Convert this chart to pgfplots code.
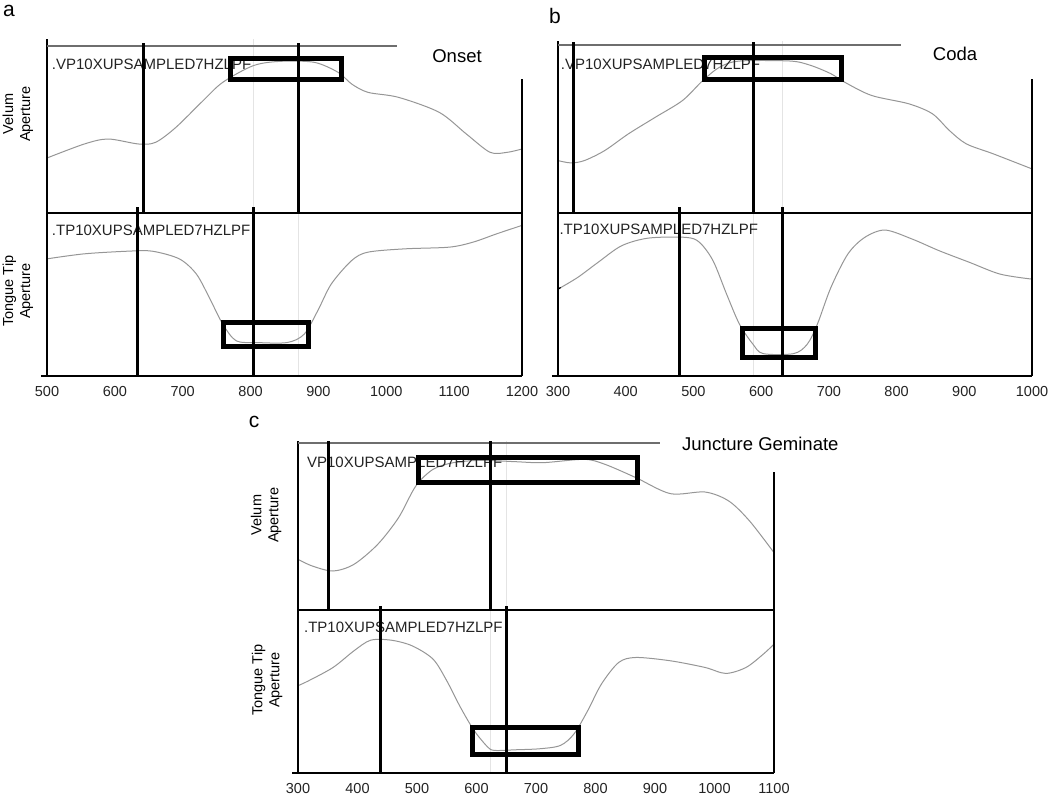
\documentclass[border=0pt]{standalone}
\usepackage{fontspec}
\setmainfont{Liberation Sans}
\usepackage{pgfplots}
\pgfplotsset{compat=1.18}
\definecolor{curve}{RGB}{150,150,150}
\definecolor{topline}{RGB}{110,110,110}
\definecolor{faint}{RGB}{228,228,228}
\definecolor{txt}{RGB}{35,35,35}
\tikzset{spine/.style={black, line width=1.2pt}}
\pgfplotsset{
  base/.style={scale only axis, clip=false, axis line style={draw=none},
    major tick length=0pt, minor tick num=0, ytick=\empty, ymin=0,
    /pgf/number format/assume math mode=true,
    /pgf/number format/1000 sep={},
    xticklabel style={font=\fontsize{14.5}{16}\selectfont, text=txt, yshift=-7pt}},
  curveplot/.style={curve, line width=1pt, no markers, smooth},
  markline/.style={black, line width=3pt, no markers},
  faintline/.style={faint, line width=1pt, no markers},
  rectbox/.style={black, line width=5pt, no markers, line join=miter},
}
\newcommand{\trace}[1]{\fontsize{15}{17}\selectfont\color{txt}#1}
\begin{document}
\begin{tikzpicture}
\path[use as bounding box] (0,0) rectangle (1050pt,-803pt);

% ---------------- panel a ----------------
\begin{axis}[base, at={(47pt,-213pt)}, anchor=south west, width=475pt, height=174pt,
  xmin=500, xmax=1200, ymax=522, xtick=\empty]
  \addplot[faintline] coordinates {(805,0) (805,522)};
  \addplot[curveplot] coordinates {(500,165) (555,207) (590,222) (635,207) (660,212) (690,257) (730,337) (759,392) (804,442) (844,455) (894,452) (929,422) (949,387) (973,362) (1018,347) (1078,302) (1118,237) (1153,182) (1178,182) (1200,192)};
  \draw[spine] (axis cs:500,0) -- (axis cs:500,522);
  \draw[spine] (axis cs:1200,0) -- (axis cs:1200,402);
  \draw[topline, line width=2pt] (axis cs:500,502) -- (axis cs:1016,502);
  \node[anchor=west, inner sep=0pt] at (axis cs:507,447) {\trace{.VP10XUPSAMPLED7HZLPF}};
  \addplot[markline] coordinates {(642,0) (642,510)};
  \addplot[markline] coordinates {(871,0) (871,510)};
  \addplot[rectbox] coordinates {(771,465) (934,465) (934,402) (771,402)} -- cycle;
\end{axis}
\begin{axis}[base, at={(47pt,-376pt)}, anchor=south west, width=475pt, height=163pt,
  xmin=500, xmax=1200, ymax=487, xtick={500,600,...,1200}]
  \addplot[faintline] coordinates {(871,0) (871,487)};
  \addplot[curveplot] coordinates {(500,350) (555,365) (620,373) (655,373) (695,350) (720,305) (739,235) (759,155) (779,105) (809,100) (854,100) (879,125) (899,195) (919,275) (949,345) (973,370) (1028,380) (1093,385) (1128,400) (1163,425) (1200,450)};
  \draw[spine] (axis cs:500,0) -- (axis cs:500,487);
  \draw[spine] (axis cs:1200,0) -- (axis cs:1200,487);
  \draw[spine] (axis cs:500,487) -- (axis cs:1200,487);
  \draw[spine] (axis cs:491,0) -- (axis cs:1200,0);
  \node[anchor=west, inner sep=0pt] at (axis cs:507,436) {\trace{.TP10XUPSAMPLED7HZLPF}};
  \addplot[markline] coordinates {(634,0) (634,505)};
  \addplot[markline] coordinates {(805,0) (805,505)};
  \addplot[rectbox] coordinates {(760,160) (886,160) (886,89) (760,89)} -- cycle;
\end{axis}

% ---------------- panel b ----------------
\begin{axis}[base, at={(558pt,-213pt)}, anchor=south west, width=474pt, height=172pt,
  xmin=300, xmax=1000, ymax=515, xtick=\empty]
  \addplot[faintline] coordinates {(631,0) (631,515)};
  \addplot[curveplot] coordinates {(300,157) (319,150) (339,157) (369,187) (404,237) (444,287) (484,337) (514,397) (539,437) (568,455) (643,455) (673,442) (703,417) (723,392) (763,352) (818,327) (853,297) (878,247) (903,207) (943,177) (1000,132)};
  \draw[spine] (axis cs:300,0) -- (axis cs:300,515);
  \draw[spine] (axis cs:1000,0) -- (axis cs:1000,400);
  \draw[topline, line width=2pt] (axis cs:300,504) -- (axis cs:806,504);
  \node[anchor=west, inner sep=0pt] at (axis cs:304,446) {\trace{.VP10XUPSAMPLED7HZLPF}};
  \addplot[markline] coordinates {(323,0) (323,512)};
  \addplot[markline] coordinates {(588,0) (588,512)};
  \addplot[rectbox] coordinates {(517,465) (718,465) (718,401) (517,401)} -- cycle;
\end{axis}
\begin{axis}[base, at={(558pt,-376pt)}, anchor=south west, width=474pt, height=163pt,
  xmin=300, xmax=1000, ymax=488, xtick={300,400,...,1000}]
  \addplot[faintline] coordinates {(588,0) (588,488)};
  \addplot[curveplot] coordinates {(300,260) (329,295) (359,340) (394,390) (434,413) (489,415) (509,400) (529,345) (549,245) (568,155) (588,95) (603,67) (648,67) (668,95) (683,155) (703,265) (728,365) (753,415) (783,437) (823,410) (863,375) (908,340) (953,305) (1000,290)};
  \draw[spine] (axis cs:300,0) -- (axis cs:300,488);
  \draw[spine] (axis cs:1000,0) -- (axis cs:1000,488);
  \draw[spine] (axis cs:300,488) -- (axis cs:1000,488);
  \draw[spine] (axis cs:291,0) -- (axis cs:1000,0);
  \draw[spine] (axis cs:300,260) -- (axis cs:304,265);
  \node[anchor=west, inner sep=0pt] at (axis cs:302,440) {\trace{.TP10XUPSAMPLED7HZLPF}};
  \addplot[markline] coordinates {(480,0) (480,507)};
  \addplot[markline] coordinates {(631,0) (631,507)};
  \addplot[rectbox] coordinates {(572,143) (681,143) (681,54) (572,54)} -- cycle;
\end{axis}

% ---------------- panel c ----------------
\begin{axis}[base, at={(298pt,-610pt)}, anchor=south west, width=476pt, height=169pt,
  xmin=300, xmax=1100, ymax=507, xtick=\empty]
  \addplot[faintline] coordinates {(651,0) (651,507)};
  \addplot[curveplot] coordinates {(300,152) (324,132) (359,117) (394,137) (434,197) (469,277) (498,372) (527,422) (561,442) (608,449) (665,445) (712,442) (781,452) (816,437) (868,397) (926,349) (984,354) (1024,327) (1059,267) (1100,172)};
  \draw[spine] (axis cs:300,0) -- (axis cs:300,507);
  \draw[spine] (axis cs:1100,0) -- (axis cs:1100,415);
  \draw[topline, line width=2pt] (axis cs:300,500) -- (axis cs:909,500);
  \node[anchor=west, inner sep=0pt] at (axis cs:315,444) {\trace{VP10XUPSAMPLED7HZLPF}};
  \addplot[markline] coordinates {(352,0) (352,507)};
  \addplot[markline] coordinates {(623,0) (623,507)};
  \addplot[rectbox] coordinates {(503,458) (871,458) (871,382) (503,382)} -- cycle;
\end{axis}
\begin{axis}[base, at={(298pt,-773pt)}, anchor=south west, width=476pt, height=163pt,
  xmin=300, xmax=1100, ymax=491, xtick={300,400,...,1100}]
  \addplot[faintline] coordinates {(623,0) (623,491)};
  \addplot[curveplot] coordinates {(300,263) (318,278) (359,318) (394,368) (422,400) (457,400) (492,383) (527,343) (550,278) (573,198) (596,128) (619,78) (631,68) (666,70) (706,73) (741,83) (764,118) (787,188) (810,268) (839,333) (868,348) (926,338) (984,318) (1019,300) (1053,318) (1082,358) (1100,388)};
  \draw[spine] (axis cs:300,0) -- (axis cs:300,491);
  \draw[spine] (axis cs:1100,0) -- (axis cs:1100,491);
  \draw[spine] (axis cs:300,491) -- (axis cs:1100,491);
  \draw[spine] (axis cs:290,0) -- (axis cs:1100,0);
  \node[anchor=west, inner sep=0pt] at (axis cs:310,438) {\trace{.TP10XUPSAMPLED7HZLPF}};
  \addplot[markline] coordinates {(439,0) (439,503)};
  \addplot[markline] coordinates {(651,0) (651,503)};
  \addplot[rectbox] coordinates {(594,136) (772,136) (772,57) (594,57)} -- cycle;
\end{axis}

% ---------------- labels ----------------
\node[font=\fontsize{21}{24}\selectfont] at (9pt,-11pt) {a};
\node[font=\fontsize{21}{24}\selectfont] at (555pt,-16pt) {b};
\node[font=\fontsize{21}{24}\selectfont] at (254pt,-422pt) {c};
\node[font=\fontsize{18.5}{21}\selectfont] at (457pt,-56pt) {Onset};
\node[font=\fontsize{18.5}{21}\selectfont] at (955pt,-54pt) {Coda};
\node[font=\fontsize{18.5}{21}\selectfont, anchor=west, inner sep=0pt] at (682pt,-444pt) {Juncture Geminate};
\node[rotate=90, align=center, font=\fontsize{14.5}{17}\selectfont] at (18pt,-114pt) {Velum\\Aperture};
\node[rotate=90, align=center, font=\fontsize{14.5}{17}\selectfont] at (18pt,-291pt) {Tongue Tip\\Aperture};
\node[rotate=90, align=center, font=\fontsize{14.5}{17}\selectfont] at (266pt,-515pt) {Velum\\Aperture};
\node[rotate=90, align=center, font=\fontsize{14.5}{17}\selectfont] at (267pt,-680pt) {Tongue Tip\\Aperture};
\end{tikzpicture}
\end{document}
